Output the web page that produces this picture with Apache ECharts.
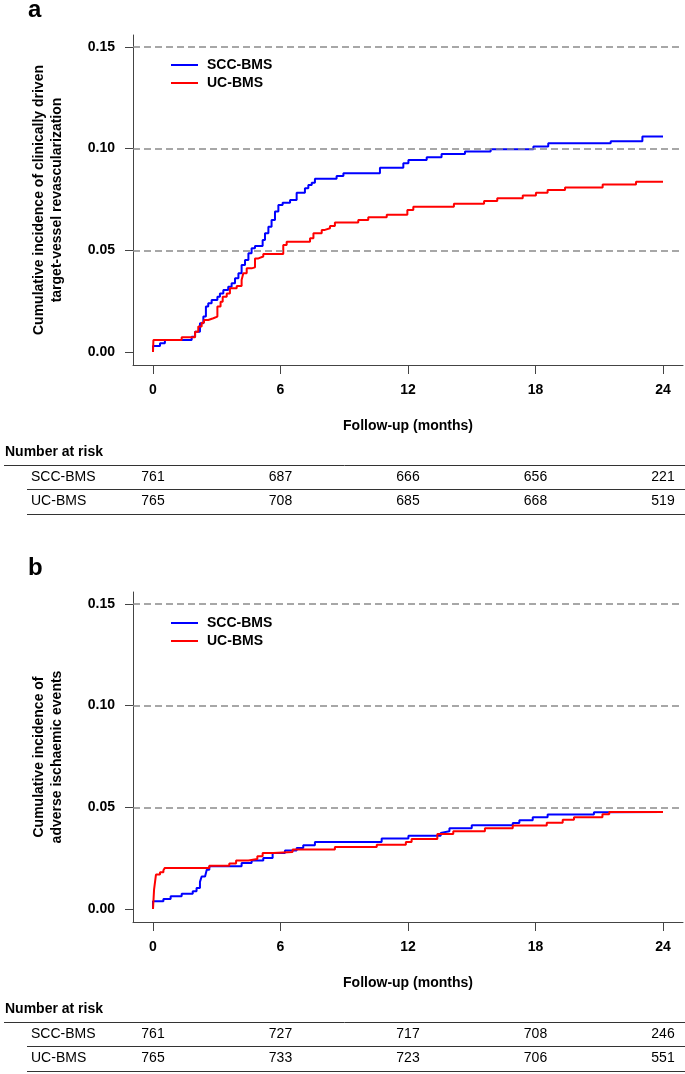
<!DOCTYPE html>
<html>
<head>
<meta charset="utf-8">
<script src="https://cdn.jsdelivr.net/npm/echarts@6/dist/echarts.min.js"></script>
<style>
  html, body { margin: 0; padding: 0; background: #fff; }
  #main { width: 685px; height: 1074px; }
</style>
</head>
<body>
<div id="main"></div>
<script>
// tick labels
var xTicks = [0, 6, 12, 18, 24];
var yTicks = [0, 0.05, 0.10, 0.15];
var refLines = [0.05, 0.10, 0.15];

// panel a: clinically driven TVR (step points: month, cumulative incidence)
var aSccT = [0, 0, 0.33, 0.56, 1.82, 1.98, 2.21, 2.37, 2.49, 2.60, 2.76, 3.03, 3.15, 3.31, 3.54, 3.70, 3.86, 4.02, 4.17, 4.33, 4.49, 4.64, 4.80, 5.16, 5.27, 5.43, 5.58, 5.74, 5.90, 6.10, 6.45, 6.76, 7.15, 7.31, 7.47, 7.62, 8.64, 8.96, 10.68, 11.78, 12.02, 12.88, 13.58, 14.68, 15.89, 17.90, 18.60, 21.54, 23.03, 24.0];
var aSccV = [0, 0.0030, 0.0043, 0.0059, 0.0075, 0.0100, 0.0141, 0.0174, 0.0223, 0.0239, 0.0256, 0.0272, 0.0288, 0.0305, 0.0321, 0.0338, 0.0362, 0.0387, 0.0428, 0.0452, 0.0485, 0.0510, 0.0521, 0.0551, 0.0583, 0.0616, 0.0649, 0.0690, 0.0723, 0.0734, 0.0747, 0.0783, 0.0805, 0.0821, 0.0832, 0.0851, 0.0865, 0.0878, 0.0906, 0.0928, 0.0944, 0.0957, 0.0973, 0.0985, 0.0996, 0.1010, 0.1026, 0.1036, 0.1059, 0.1059];
var aUcT = [0, 0.02, 1.35, 1.98, 2.13, 2.29, 2.40, 2.60, 2.84, 3.03, 3.18, 3.28, 3.47, 3.62, 3.94, 4.17, 4.25, 4.41, 4.64, 4.80, 4.96, 5.19, 6.13, 6.29, 7.39, 7.55, 7.94, 8.09, 8.33, 8.56, 9.66, 10.13, 11.0, 11.97, 12.25, 14.16, 15.58, 16.2, 17.4, 18.02, 18.57, 19.39, 21.16, 22.73, 24.0];
var aUcV = [0, 0.0059, 0.0072, 0.0100, 0.0125, 0.0144, 0.0157, 0.0166, 0.0174, 0.0223, 0.0247, 0.0272, 0.0288, 0.0313, 0.0324, 0.0354, 0.0387, 0.0411, 0.0416, 0.0460, 0.0469, 0.0482, 0.0526, 0.0542, 0.0559, 0.0583, 0.0600, 0.0608, 0.0619, 0.0636, 0.0649, 0.0662, 0.0674, 0.0698, 0.0714, 0.0728, 0.0742, 0.0755, 0.0769, 0.0783, 0.0796, 0.0808, 0.0823, 0.0837, 0.0837];

// panel b: adverse ischaemic events
var bSccT = [0, 0, 0.49, 0.83, 1.35, 1.87, 2.05, 2.21, 2.29, 2.45, 2.53, 2.65, 4.17, 4.64, 5.19, 5.63, 6.21, 6.76, 7.07, 7.62, 10.76, 12.02, 13.54, 13.63, 13.95, 15.0, 16.93, 17.24, 17.87, 18.57, 20.75, 21.47, 24.0];
var bSccV = [0, 0.0038, 0.0049, 0.0062, 0.0075, 0.0087, 0.0103, 0.0133, 0.0160, 0.0169, 0.0193, 0.0210, 0.0226, 0.0238, 0.0251, 0.0275, 0.0288, 0.0300, 0.0313, 0.0329, 0.0346, 0.0360, 0.0374, 0.0382, 0.0397, 0.0411, 0.0423, 0.0436, 0.0451, 0.0464, 0.0475, 0.0477, 0.0477];
var bUcT = [0, 0.05, 0.14, 0.33, 0.49, 0.56, 2.65, 3.59, 3.91, 4.49, 4.91, 5.16, 5.66, 6.57, 8.56, 10.53, 11.9, 12.17, 13.38, 14.13, 15.62, 16.93, 18.53, 19.28, 19.81, 21.15, 21.47, 24.0];
var bUcV = [0, 0.0095, 0.0169, 0.0180, 0.0190, 0.0202, 0.0213, 0.0223, 0.0238, 0.0246, 0.0259, 0.0275, 0.0280, 0.0292, 0.0305, 0.0316, 0.0329, 0.0344, 0.0369, 0.0382, 0.0397, 0.0410, 0.0424, 0.0438, 0.0451, 0.0465, 0.0477, 0.0477];

// number at risk
var riskMonths = [0, 6, 12, 18, 24];
var riskASCC = [761, 687, 666, 656, 221];
var riskAUC = [765, 708, 685, 668, 519];
var riskBSCC = [761, 727, 717, 708, 246];
var riskBUC = [765, 733, 723, 706, 551];

var FONT = 'Arial, "Liberation Sans", sans-serif';

function pairs(t, v) {
    return t.map(function (x, i) { return [x, v[i]]; });
}

function xAxisFor(idx) {
    return {
        gridIndex: idx,
        type: 'value',
        min: -0.941,
        max: 24.941,
        name: 'Follow-up (months)',
        nameLocation: 'middle',
        nameGap: 54,
        nameTextStyle: { fontFamily: FONT, fontWeight: 'bold', fontSize: 14, color: '#000' },
        axisLine: { onZero: false, lineStyle: { color: '#444', width: 1 } },
        axisTick: { customValues: xTicks, length: 9, lineStyle: { color: '#444' } },
        axisLabel: { customValues: xTicks, margin: 18, fontFamily: FONT, fontWeight: 'bold', fontSize: 14, color: '#000' },
        splitLine: { show: false }
    };
}

function yAxisFor(idx, title) {
    return {
        gridIndex: idx,
        type: 'value',
        min: -0.0064,
        max: 0.1558,
        name: title,
        nameLocation: 'middle',
        nameRotate: 90,
        nameGap: 67,
        nameTextStyle: { fontFamily: FONT, fontWeight: 'bold', fontSize: 14, lineHeight: 18, color: '#000' },
        axisLine: { show: true, onZero: false, lineStyle: { color: '#444', width: 1 } },
        axisTick: { show: true, customValues: yTicks, length: 8, lineStyle: { color: '#444' } },
        axisLabel: {
            customValues: yTicks, margin: 18, fontFamily: FONT, fontWeight: 'bold', fontSize: 14, color: '#000',
            formatter: function (v) { return v.toFixed(2); }
        },
        splitLine: { show: false }
    };
}

function refSeries(idx) {
    return {
        name: 'ref' + idx,
        type: 'line',
        xAxisIndex: idx,
        yAxisIndex: idx,
        data: [],
        z: 1,
        markLine: {
            silent: true,
            symbol: 'none',
            animation: false,
            label: { show: false },
            lineStyle: { type: [7, 4], color: '#8a8a8a', width: 1.5 },
            data: refLines.map(function (v) { return { yAxis: v }; })
        }
    };
}

function curve(idx, name, color, t, v) {
    return {
        name: name,
        type: 'line',
        xAxisIndex: idx,
        yAxisIndex: idx,
        step: 'end',
        symbol: 'none',
        z: 3,
        color: color,
        lineStyle: { color: color, width: 2 },
        data: pairs(t, v)
    };
}

function legendFor(top) {
    return {
        data: ['SCC-BMS', 'UC-BMS'],
        orient: 'vertical',
        left: 166,
        top: top,
        icon: 'rect',
        itemWidth: 27,
        itemHeight: 2,
        itemGap: 4,
        selectedMode: false,
        textStyle: { fontFamily: FONT, fontWeight: 'bold', fontSize: 14, color: '#000', padding: [0, 0, 0, 4] }
    };
}

var chart = echarts.init(document.getElementById('main'), null, { renderer: 'canvas' });

var option = {
    animation: false,
    backgroundColor: '#fff',
    grid: [
        { left: 133, top: 35, width: 550, height: 330 },
        { left: 133, top: 592, width: 550, height: 330 }
    ],
    xAxis: [xAxisFor(0), xAxisFor(1)],
    yAxis: [
        yAxisFor(0, 'Cumulative incidence of clinically driven\ntarget-vessel revascularization'),
        yAxisFor(1, 'Cumulative incidence of\nadverse ischaemic events')
    ],
    legend: [legendFor(53), legendFor(611)],
    series: [
        refSeries(0),
        curve(0, 'SCC-BMS', '#0000ff', aSccT, aSccV),
        curve(0, 'UC-BMS', '#ff0000', aUcT, aUcV),
        refSeries(1),
        curve(1, 'SCC-BMS', '#0000ff', bSccT, bSccV),
        curve(1, 'UC-BMS', '#ff0000', bUcT, bUcV)
    ]
};

chart.setOption(option);

// risk table + panel letters drawn as graphic text, x taken from the axis scale
function riskTable(gridIdx, topY, rowScc, rowUc) {
    var els = [];
    var txt = function (text, x, y, bold, align) {
        els.push({
            type: 'text',
            style: {
                text: text, x: x, y: y,
                font: (bold ? 'bold ' : '') + '14px ' + FONT,
                fill: '#000', align: align || 'left', verticalAlign: 'middle'
            }
        });
    };
    var hline = function (x1, y) {
        els.push({ type: 'line', shape: { x1: x1, y1: y, x2: 685, y2: y }, style: { stroke: '#333', lineWidth: 1 } });
    };
    txt('Number at risk', 5, topY, true);
    hline(4, topY + 13.5);
    txt('SCC-BMS', 31, topY + 25);
    hline(27, topY + 37.5);
    txt('UC-BMS', 31, topY + 49);
    hline(27, topY + 62.5);
    riskMonths.forEach(function (m, i) {
        var x = chart.convertToPixel({ xAxisIndex: gridIdx }, m);
        txt(String(rowScc[i]), x, topY + 25, false, 'center');
        txt(String(rowUc[i]), x, topY + 49, false, 'center');
    });
    return els;
}

var graphics = [];
graphics = graphics.concat(riskTable(0, 452, riskASCC, riskAUC));
graphics = graphics.concat(riskTable(1, 1009, riskBSCC, riskBUC));
graphics.push({ type: 'text', style: { text: 'a', x: 28, y: 10, font: 'bold 24px ' + FONT, fill: '#000', verticalAlign: 'middle' } });
graphics.push({ type: 'text', style: { text: 'b', x: 28, y: 568, font: 'bold 24px ' + FONT, fill: '#000', verticalAlign: 'middle' } });

chart.setOption({ graphic: graphics });
</script>
</body>
</html>
